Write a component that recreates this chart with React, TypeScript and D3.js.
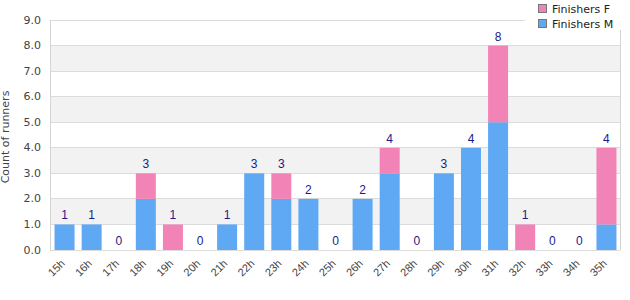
import React from "react";
import * as d3 from "d3";

const categories = ["15h","16h","17h","18h","19h","20h","21h","22h","23h","24h","25h","26h","27h","28h","29h","30h","31h","32h","33h","34h","35h"];
const finishersM = [1,1,0,2,0,0,1,3,2,2,0,2,3,0,3,4,5,0,0,0,1];
const finishersF = [0,0,0,1,1,0,0,0,1,0,0,0,1,0,0,0,3,1,0,0,3];
const yTicks = [0,1,2,3,4,5,6,7,8,9];
const seriesNames = ["Finishers F", "Finishers M"];

const W = 630, H = 300;
const left = 51, right = 620, top = 20, bottom = 250;
const colorM = "#5fa8f3";
const colorF = "#f283b7";

export default function App() {
  const x = d3.scaleBand<string>().domain(categories).range([left, right]).paddingInner(0).paddingOuter(0);
  const y = d3.scaleLinear().domain([0, 9]).range([bottom, top]);
  const barW = 20;
  const totals = categories.map((_, i) => finishersM[i] + finishersF[i]);

  return (
    <svg width={W} height={H} style={{ position: "absolute", left: 0, top: 0 }}>
      <rect x={0} y={0} width={W} height={H} fill="#fff" />
      {/* alternating bands */}
      {yTicks.slice(0, -1).map((t) =>
        t % 2 === 1 ? (
          <rect key={"b" + t} x={50} y={y(t + 1)} width={right - 50} height={y(t) - y(t + 1)} fill="#f2f2f2" />
        ) : null
      )}
      {yTicks.map((t) => (
        <line key={"g" + t} x1={50} x2={right} y1={y(t)} y2={y(t)} stroke="#dcdcdc" strokeWidth={1} shapeRendering="crispEdges" />
      ))}
      <line x1={50} x2={50} y1={top} y2={bottom} stroke="#d4d4d4" shapeRendering="crispEdges" />
      <line x1={right} x2={right} y1={top} y2={bottom} stroke="#d4d4d4" shapeRendering="crispEdges" />
      {yTicks.map((t) => (
        <text key={"yl" + t} x={41} y={y(t) + 3.5} textAnchor="end" fontFamily="DejaVu Sans" fontSize={11} fill="#444">
          {t.toFixed(1)}
        </text>
      ))}
      <text transform={`translate(9,${(top + bottom) / 2 + 2}) rotate(-90)`} textAnchor="middle" fontFamily="DejaVu Sans" fontSize={11} fill="#444">
        Count of runners
      </text>
      {categories.map((c, i) => {
        const cx = (x(c) as number) + x.bandwidth() / 2;
        const m = finishersM[i];
        const f = finishersF[i];
        return (
          <g key={c}>
            {m > 0 && <rect x={cx - barW / 2} y={y(m)} width={barW} height={y(0) - y(m)} fill={colorM} />}
            {f > 0 && <rect x={cx - barW / 2} y={y(m + f)} width={barW} height={y(m) - y(m + f)} fill={colorF} />}
            <text x={cx} y={y(totals[i]) - 5} textAnchor="middle" fontFamily="Liberation Sans, Arial" fontSize={12} fill="#1a1a8a">
              {totals[i]}
            </text>
            <text transform={`translate(${cx - 1},${bottom + 12}) rotate(-45)`} textAnchor="end" dominantBaseline="middle" fontFamily="Liberation Sans, Arial" fontSize={11} fill="#444">
              {c}
            </text>
          </g>
        );
      })}
      {/* legend */}
      <rect x={525} y={0} width={100} height={30} fill="#fff" />
      {seriesNames.map((n, i) => (
        <g key={n}>
          <rect x={538.5} y={4.5 + i * 15} width={8} height={8} fill={i === 0 ? colorF : colorM} stroke="#777" strokeWidth={1} />
          <text x={552} y={12.5 + i * 15} fontFamily="DejaVu Sans" fontSize={11} fill="#222">{n}</text>
        </g>
      ))}
    </svg>
  );
}
